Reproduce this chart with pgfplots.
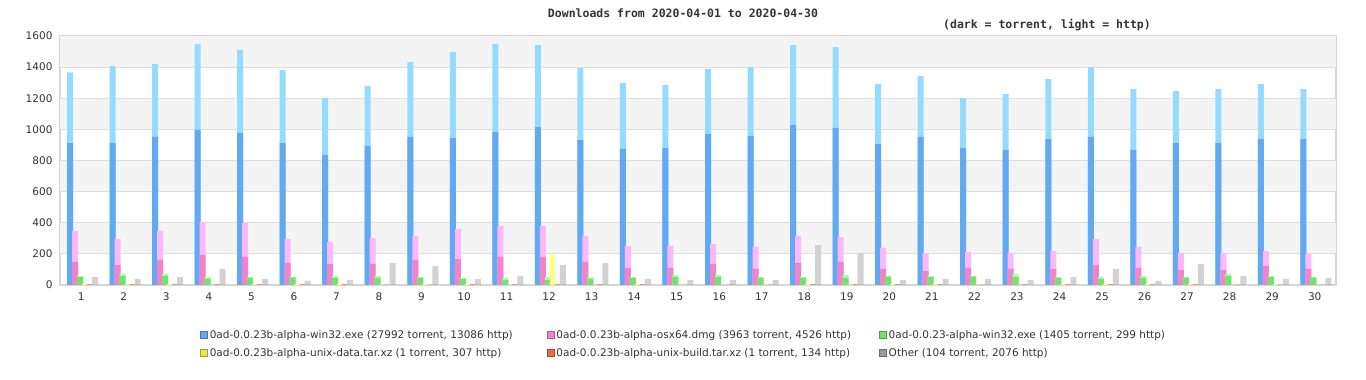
\documentclass[border=0pt]{standalone}
\usepackage{fontspec}
\setmainfont{DejaVu Sans}
\newfontfamily\titlefont{DejaVu Sans Mono}
\usepackage{pgfplots}
\pgfplotsset{compat=1.18}
\usepackage{pgfplotstable}

\definecolor{bD}{HTML}{62A8F2}
\definecolor{bL}{HTML}{94DBFF}
\definecolor{pD}{HTML}{F283C9}
\definecolor{pL}{HTML}{FDB7FD}
\definecolor{gD}{HTML}{6EE46E}
\definecolor{gL}{HTML}{A3FFA3}
\definecolor{yD}{HTML}{E8E848}
\definecolor{yL}{HTML}{FFFF80}
\definecolor{oD}{HTML}{F06A40}
\definecolor{oL}{HTML}{F79868}
\definecolor{cD}{HTML}{9A9A9A}
\definecolor{cL}{HTML}{D2D2D2}
\definecolor{band}{HTML}{F4F4F4}
\definecolor{gridc}{HTML}{DEDEDE}
\definecolor{axc}{HTML}{D6D6D6}
\definecolor{txt}{HTML}{333333}

\pgfplotstableread{
day bt bh pt ph gt gh yt yh ot oh ct ch
1 912 455 148 199 51 7 0 6 0 6 3 48
2 912 494 129 166 57 14 0 6 0 6 3 36
3 951 468 161 186 57 14 0 6 0 6 3 48
4 996 551 193 211 38 13 0 0 0 6 3 100
5 976 533 180 218 45 6 0 6 0 6 3 36
6 912 468 142 153 48 3 0 6 0 6 3 23
7 835 365 135 141 45 13 0 6 0 6 3 29
8 893 385 135 167 45 13 0 0 0 0 3 138
9 951 481 161 154 45 6 0 6 0 0 3 119
10 944 552 167 193 38 7 0 6 0 6 3 36
11 983 564 180 199 32 13 0 0 0 6 3 55
12 1015 526 180 199 32 19 1 192 0 6 3 125
13 931 462 148 167 38 13 0 0 0 6 3 138
14 874 423 110 140 45 6 0 6 0 6 3 36
15 880 404 110 140 51 13 0 0 0 0 3 29
16 970 417 135 128 51 13 0 0 0 0 3 29
17 957 443 103 141 45 6 0 0 0 0 3 29
18 1028 513 142 173 45 6 0 6 0 6 3 254
19 1009 519 148 160 45 19 0 0 0 6 3 202
20 906 384 103 135 54 4 0 6 0 6 3 29
21 951 391 90 115 51 7 0 6 0 6 3 36
22 880 320 110 102 54 4 0 0 0 0 3 36
23 867 359 103 102 51 20 0 0 1 5 3 29
24 938 385 103 115 45 6 0 6 0 6 3 48
25 951 449 129 166 38 13 0 6 0 6 3 100
26 867 391 110 134 45 13 0 6 0 6 3 23
27 912 333 97 108 48 3 0 6 0 6 3 132
28 912 346 97 108 57 14 0 0 0 0 3 55
29 938 352 123 95 51 7 0 6 0 0 3 36
30 938 320 103 96 48 3 0 0 0 0 3 42
}\data

% #1 column prefix, #2 colour prefix, #3 bar width, #4 bar shift
\newcommand\pairbar[4]{%
  \addplot[ybar, bar width=#3, bar shift=#4, fill=#2L, draw=none, forget plot]
    table[x=day, y expr=\thisrow{#1t}+\thisrow{#1h}] {\data};
  \addplot[ybar, bar width=#3, bar shift=#4, fill=#2D, draw=none, forget plot]
    table[x=day, y=#1t] {\data};
}
\newcommand\legsq[1]{\addlegendimage{legend image code/.code={\draw[fill=#1D,draw=#1D!70!black,line width=0.6pt] (0pt,-3.5pt) rectangle (7pt,3.5pt);}}}

\begin{document}
\begin{tikzpicture}
\useasboundingbox (0,0) rectangle (1366pt,380pt);
\node[font=\titlefont\bfseries\fontsize{11.5}{13}\selectfont, text=txt] at (683pt,367pt) {Downloads from 2020-04-01 to 2020-04-30};
\node[font=\titlefont\bfseries\fontsize{11.5}{13}\selectfont, text=txt] at (1047pt,355pt) {(dark = torrent, light = http)};
\begin{axis}[
  at={(60pt,95pt)}, anchor=south west,
  scale only axis, width=1276pt, height=249pt,
  xmin=0.5, xmax=30.5, ymin=0, ymax=1600,
  xtick={1,...,30}, ytick={0,200,...,1600},
  major tick length=0pt,
  axis line style={draw=axc, line width=1.2pt},
  tick label style={font=\fontsize{10.5}{12}\selectfont, text=txt},
  yticklabel style={xshift=-4pt},
  xticklabel style={yshift=-4pt},
  /pgf/number format/assume math mode=true,
  /pgf/number format/1000 sep={},
  clip=true,
  legend columns=3,
  legend cell align=left,
  legend style={at={(0.1097,-0.172)}, anchor=north west, draw=none, fill=none,
    inner sep=0pt, font=\fontsize{10.5}{12.5}\selectfont, text=txt,
    row sep=5pt},
]
\fill[band] (axis cs:0.5,200) rectangle (axis cs:30.5,400);
\fill[band] (axis cs:0.5,600) rectangle (axis cs:30.5,800);
\fill[band] (axis cs:0.5,1000) rectangle (axis cs:30.5,1200);
\fill[band] (axis cs:0.5,1400) rectangle (axis cs:30.5,1600);
\draw[gridc, line width=1pt] (axis cs:0.5,200) -- (axis cs:30.5,200);
\draw[gridc, line width=1pt] (axis cs:0.5,400) -- (axis cs:30.5,400);
\draw[gridc, line width=1pt] (axis cs:0.5,600) -- (axis cs:30.5,600);
\draw[gridc, line width=1pt] (axis cs:0.5,800) -- (axis cs:30.5,800);
\draw[gridc, line width=1pt] (axis cs:0.5,1000) -- (axis cs:30.5,1000);
\draw[gridc, line width=1pt] (axis cs:0.5,1200) -- (axis cs:30.5,1200);
\draw[gridc, line width=1pt] (axis cs:0.5,1400) -- (axis cs:30.5,1400);
\pairbar{b}{b}{6pt}{-11.25pt}
\pairbar{p}{p}{6pt}{-6.25pt}
\pairbar{g}{g}{6pt}{-1.25pt}
\pairbar{y}{y}{5pt}{3.25pt}
\pairbar{o}{o}{5pt}{8.25pt}
\pairbar{c}{c}{6pt}{13.75pt}
\legsq{b}\addlegendentry{0ad-0.0.23b-alpha-win32.exe (27992 torrent, 13086 http)\rule{32pt}{0pt}}
\legsq{p}\addlegendentry{0ad-0.0.23b-alpha-osx64.dmg (3963 torrent, 4526 http)\rule{26pt}{0pt}}
\legsq{g}\addlegendentry{0ad-0.0.23-alpha-win32.exe (1405 torrent, 299 http)}
\legsq{y}\addlegendentry{0ad-0.0.23b-alpha-unix-data.tar.xz (1 torrent, 307 http)}
\legsq{o}\addlegendentry{0ad-0.0.23b-alpha-unix-build.tar.xz (1 torrent, 134 http)}
\legsq{c}\addlegendentry{Other (104 torrent, 2076 http)}
\end{axis}
\end{tikzpicture}
\end{document}
